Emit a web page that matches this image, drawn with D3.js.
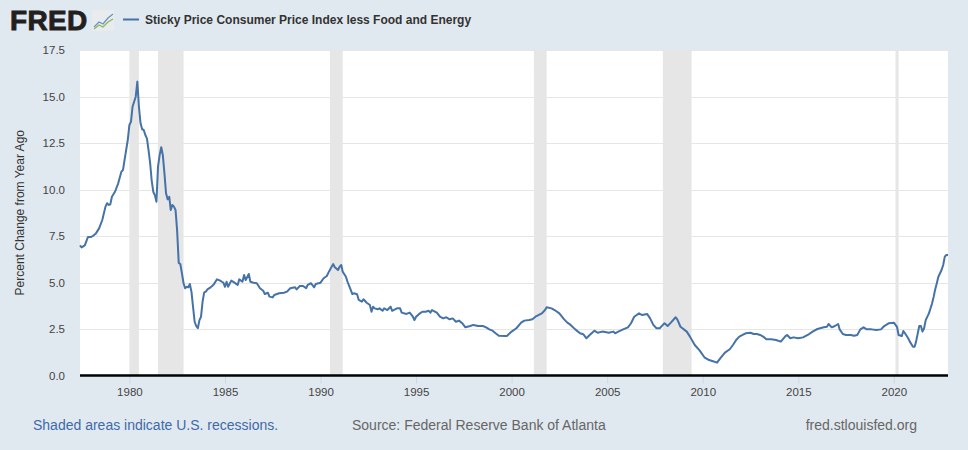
<!DOCTYPE html>
<html>
<head>
<meta charset="utf-8">
<script src="https://cdn.jsdelivr.net/npm/d3@7"></script>
<style>
  html, body { margin: 0; padding: 0; background: #e1e9f0; }
  svg { display: block; font-family: "Liberation Sans", Arial, sans-serif; }
</style>
</head>
<body>
<svg id="chart" width="968" height="450"></svg>
<script>
const seriesName = "Sticky Price Consumer Price Index less Food and Energy";
const yAxisTitle = "Percent Change from Year Ago";
const yTicks = [0, 2.5, 5, 7.5, 10, 12.5, 15, 17.5];
const xTickYears = [1980, 1985, 1990, 1995, 2000, 2005, 2010, 2015, 2020];
const xDomain = ["1977-06", "2022-11"];

const recessionStarts = ["1980-01", "1981-07", "1990-07", "2001-03", "2007-12", "2020-02"];
const recessionEnds   = ["1980-07", "1982-11", "1991-03", "2001-11", "2009-06", "2020-04"];

const dates = [
 "1977-06","1977-07","1977-09","1977-11","1978-01","1978-02","1978-04","1978-06","1978-08","1978-10","1978-11","1978-12",
 "1979-01","1979-02","1979-04","1979-06","1979-08","1979-09","1979-10","1979-12",
 "1980-01","1980-02","1980-03","1980-05","1980-06","1980-07","1980-08","1980-09","1980-10","1980-11","1980-12",
 "1981-01","1981-02","1981-03","1981-04","1981-05","1981-06","1981-07","1981-08","1981-09","1981-10","1981-11","1981-12",
 "1982-01","1982-02","1982-03","1982-04","1982-05","1982-06","1982-07","1982-08","1982-09","1982-10","1982-11","1982-12",
 "1983-01","1983-02","1983-03","1983-04","1983-05","1983-06","1983-07","1983-08","1983-09","1983-10","1983-11","1983-12",
 "1984-01","1984-02","1984-04","1984-05","1984-06","1984-08","1984-10","1984-11","1984-12",
 "1985-01","1985-02","1985-03","1985-05","1985-07","1985-09","1985-10","1985-12",
 "1986-01","1986-02","1986-04","1986-05","1986-07","1986-09","1986-11",
 "1987-01","1987-02","1987-04","1987-05","1987-07","1987-08","1987-11",
 "1988-02","1988-04","1988-06","1988-09","1988-10","1988-12",
 "1989-02","1989-04","1989-05","1989-07","1989-09","1989-10",
 "1990-01","1990-03","1990-05","1990-06","1990-08","1990-09","1990-10","1990-12",
 "1991-01","1991-02","1991-03","1991-05","1991-06","1991-08","1991-09","1991-10","1991-12",
 "1992-01","1992-03","1992-04","1992-06","1992-08","1992-09","1992-10","1992-11",
 "1993-01","1993-02","1993-04","1993-05","1993-07","1993-09","1993-10",
 "1994-01","1994-03","1994-04","1994-07","1994-09","1994-11","1994-12",
 "1995-01","1995-03","1995-05","1995-07","1995-09","1995-10","1995-11",
 "1996-02","1996-04","1996-06","1996-08","1996-10","1996-12",
 "1997-02","1997-04","1997-06","1997-08","1997-11",
 "1998-01","1998-04","1998-07","1998-09","1998-11",
 "1999-01","1999-03","1999-05","1999-09","1999-10",
 "2000-01","2000-04","2000-07","2000-09","2000-12",
 "2001-02","2001-04","2001-08","2001-10","2001-11",
 "2002-02","2002-04","2002-07","2002-10","2002-12",
 "2003-02","2003-05","2003-08","2003-10","2003-12",
 "2004-02","2004-05","2004-07","2004-10",
 "2005-02","2005-05","2005-06","2005-08","2005-11",
 "2006-02","2006-04","2006-06","2006-09","2006-11",
 "2007-02","2007-04","2007-06","2007-08","2007-10","2007-12",
 "2008-01","2008-03","2008-05","2008-08","2008-09","2008-11",
 "2009-03","2009-05","2009-08","2009-11",
 "2010-02","2010-05","2010-07","2010-10","2010-12",
 "2011-03","2011-06","2011-08","2011-10","2011-12",
 "2012-02","2012-04","2012-07","2012-09","2012-11",
 "2013-01","2013-03","2013-05","2013-08","2013-11",
 "2014-02","2014-05","2014-06","2014-08","2014-10",
 "2015-01","2015-04","2015-07","2015-10",
 "2016-01","2016-05","2016-07","2016-08","2016-10","2016-12",
 "2017-02","2017-03","2017-05","2017-07","2017-10","2017-12",
 "2018-02","2018-04","2018-06","2018-08","2018-11",
 "2019-02","2019-05","2019-07","2019-10",
 "2020-01","2020-03","2020-04","2020-06","2020-07","2020-08","2020-10","2020-11",
 "2021-01","2021-02","2021-03","2021-05","2021-06","2021-07","2021-08","2021-09","2021-11","2021-12",
 "2022-01","2022-02","2022-03","2022-04","2022-05","2022-07","2022-08","2022-09","2022-10","2022-11"
];

const values = [
 7.00,6.89,7.00,7.45,7.45,7.50,7.64,7.91,8.36,9.08,9.26,9.17,
 9.20,9.61,9.88,10.33,10.96,11.05,11.59,12.66,
 13.47,13.65,14.45,14.99,15.80,14.45,13.56,13.24,13.20,12.93,12.75,
 12.12,11.41,10.51,9.88,9.70,9.34,11.23,11.85,12.27,11.85,10.87,9.80,
 9.47,9.61,8.90,9.17,9.08,8.90,7.80,6.05,5.99,5.49,4.96,4.69,
 4.77,4.74,4.92,4.51,3.70,2.89,2.66,2.54,2.98,3.16,4.00,4.47,
 4.51,4.63,4.74,4.81,4.90,5.17,5.10,5.04,4.99,
 4.77,5.04,4.77,5.10,4.99,4.87,5.17,5.04,
 5.40,5.13,5.46,5.04,4.99,4.96,4.69,
 4.56,4.38,4.45,4.24,4.20,4.33,4.42,
 4.45,4.51,4.69,4.74,4.63,4.81,
 4.81,4.69,4.87,4.96,4.74,4.92,
 4.99,5.23,5.35,5.53,5.85,5.99,5.82,5.67,
 5.85,5.94,5.58,5.31,5.04,4.60,4.38,4.42,4.37,
 4.06,3.97,4.10,3.91,3.79,3.43,3.70,3.61,
 3.56,3.61,3.48,3.61,3.52,3.70,3.48,
 3.61,3.61,3.38,3.31,3.38,3.16,2.98,
 3.16,3.31,3.43,3.43,3.48,3.38,3.52,
 3.38,3.16,3.07,3.13,3.02,3.07,
 2.89,2.95,2.81,2.59,2.66,
 2.72,2.66,2.66,2.59,2.48,
 2.41,2.27,2.14,2.12,2.12,
 2.36,2.54,2.84,2.95,2.98,
 3.02,3.16,3.34,3.52,3.67,
 3.61,3.52,3.34,3.02,2.84,
 2.72,2.48,2.27,2.22,2.00,
 2.18,2.41,2.30,2.36,
 2.30,2.36,2.27,2.36,2.48,
 2.59,2.81,3.16,3.34,3.25,
 3.31,3.07,2.72,2.54,2.54,2.72,
 2.81,2.66,2.84,3.13,3.02,2.62,
 2.36,2.09,1.64,1.35,
 0.98,0.83,0.78,0.69,0.92,
 1.23,1.41,1.64,1.91,2.09,
 2.18,2.27,2.30,2.23,2.23,
 2.18,2.09,1.95,1.95,1.91,
 1.82,2.12,2.18,2.00,2.05,
 2.00,2.05,2.18,2.36,
 2.50,2.59,2.62,2.77,2.59,2.66,
 2.77,2.48,2.23,2.18,2.18,2.14,
 2.18,2.48,2.59,2.48,2.48,
 2.45,2.48,2.66,2.81,
 2.84,2.62,2.18,2.12,2.39,2.27,2.00,1.82,
 1.55,1.55,1.82,2.66,2.66,2.36,2.54,2.98,3.34,3.60,
 3.88,4.24,4.63,4.96,5.31,5.67,5.94,6.39,6.48,6.48
];

const parse = d3.timeParse("%Y-%m");
const data = dates.map((d, i) => ({ date: parse(d), value: values[i] }));
const recessions = recessionStarts.map((s, i) => ({ start: parse(s), end: parse(recessionEnds[i]) }));

const svg = d3.select("#chart");
const plot = { left: 80, right: 948, top: 50, bottom: 375.5 };

const x = d3.scaleTime().domain(xDomain.map(parse)).range([plot.left, plot.right]);
const y = d3.scaleLinear().domain([0, 17.5]).range([plot.bottom, plot.top]);

// plot background
svg.append("rect")
  .attr("x", plot.left).attr("y", plot.top)
  .attr("width", plot.right - plot.left).attr("height", plot.bottom - plot.top)
  .attr("fill", "#ffffff");

// recessions
svg.append("g").selectAll("rect").data(recessions).join("rect")
  .attr("x", d => x(d.start))
  .attr("y", plot.top)
  .attr("width", d => Math.max(1, x(d.end) - x(d.start)))
  .attr("height", plot.bottom - plot.top)
  .attr("fill", "#e6e6e6");

// gridlines + y labels
const yAxis = d3.axisLeft(y).tickValues(yTicks).tickFormat(d3.format(".1f"))
  .tickSize(-(plot.right - plot.left)).tickPadding(15);
const gy = svg.append("g").attr("transform", `translate(${plot.left},0)`).call(yAxis);
gy.select(".domain").remove();
gy.selectAll(".tick line").attr("stroke", "#e6e6e6").attr("stroke-width", 1)
  .attr("shape-rendering", "crispEdges");
gy.selectAll(".tick text").attr("fill", "#444").attr("font-size", "11.5px")
  .attr("font-family", "'Liberation Sans', Arial, sans-serif");
gy.selectAll(".tick").filter(d => d === 0).select("line").remove();

// x axis
const xAxis = d3.axisBottom(x)
  .tickValues(xTickYears.map(yy => new Date(yy, 0, 1)))
  .tickFormat(d3.timeFormat("%Y")).tickSize(8).tickPadding(4);
const gx = svg.append("g").attr("transform", `translate(0,${plot.bottom})`).call(xAxis);
gx.select(".domain").remove();
gx.selectAll(".tick line").attr("stroke", "#ccd6eb").attr("stroke-width", 1);
gx.selectAll(".tick text").attr("fill", "#444").attr("font-size", "11.5px")
  .attr("font-family", "'Liberation Sans', Arial, sans-serif");

// series line
const line = d3.line().x(d => x(d.date)).y(d => y(d.value)).curve(d3.curveLinear);
svg.append("path").datum(data)
  .attr("d", line)
  .attr("fill", "none")
  .attr("stroke", "#4572a7")
  .attr("stroke-width", 2)
  .attr("stroke-linejoin", "round");

// axis baseline
svg.append("line")
  .attr("x1", plot.left).attr("x2", plot.right)
  .attr("y1", y(0)).attr("y2", y(0))
  .attr("stroke", "#000").attr("stroke-width", 2.5);

// y axis title
svg.append("text")
  .attr("transform", `translate(24,${(plot.top + plot.bottom) / 2}) rotate(-90)`)
  .attr("text-anchor", "middle")
  .attr("fill", "#333").attr("font-size", "12px")
  .text(yAxisTitle);

// header: FRED logo
svg.append("text")
  .attr("x", 10).attr("y", 30)
  .attr("font-family", "'Liberation Sans', Arial, sans-serif")
  .attr("font-weight", "900").attr("font-size", "28px")
  .attr("fill", "#231f20").attr("stroke", "#231f20").attr("stroke-width", 0.9)
  .attr("letter-spacing", "0.3")
  .text("FRED");
const icon = svg.append("g").attr("transform", "translate(92,10)");
icon.append("rect").attr("width", 22).attr("height", 21).attr("rx", 2).attr("fill", "#e8ecef");
icon.append("path").attr("d", "M2,17 L7,12 L11,14 L16,8 L21,4")
  .attr("fill", "none").attr("stroke", "#6b93c4").attr("stroke-width", 1.3);
icon.append("path").attr("d", "M2,19 L7,15 L11,17 L16,12 L21,9")
  .attr("fill", "none").attr("stroke", "#8ab85a").attr("stroke-width", 1.3);

// legend
svg.append("line").attr("x1", 123).attr("x2", 139).attr("y1", 19.5).attr("y2", 19.5)
  .attr("stroke", "#4572a7").attr("stroke-width", 2);
svg.append("text").attr("x", 145).attr("y", 24)
  .attr("fill", "#333").attr("font-size", "12px").attr("font-weight", "bold")
  .text(seriesName);

// footer
svg.append("text").attr("x", 33).attr("y", 430)
  .attr("fill", "#3e6aa8").attr("font-size", "14px")
  .text("Shaded areas indicate U.S. recessions.");
svg.append("text").attr("x", 352).attr("y", 430)
  .attr("fill", "#666").attr("font-size", "14px")
  .text("Source: Federal Reserve Bank of Atlanta");
svg.append("text").attr("x", 917).attr("y", 430).attr("text-anchor", "end")
  .attr("fill", "#666").attr("font-size", "14px")
  .text("fred.stlouisfed.org");
</script>
</body>
</html>
